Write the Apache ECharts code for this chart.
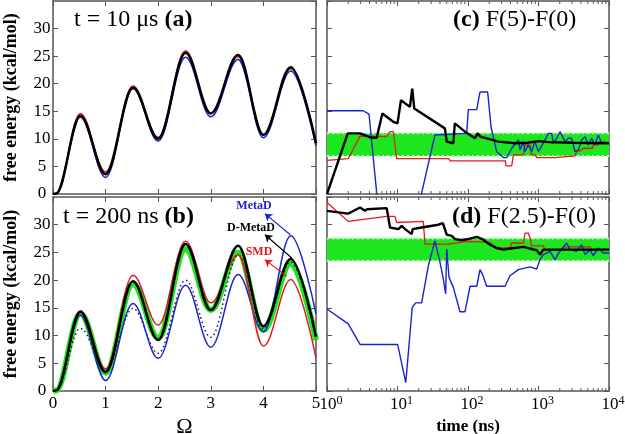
<!DOCTYPE html>
<html><head><meta charset="utf-8">
<script src="https://cdn.jsdelivr.net/npm/echarts@6/dist/echarts.min.js"></script>
<style>html,body{margin:0;padding:0;background:#fff}#c{width:625px;height:434px}</style>
</head><body><div id="c"></div>
<script>
// ---------------- data ----------------
// Omega positions of start, foot, peaks and minima (left panels)
const omegaNodes = [0, 0.06, 0.52, 1, 1.52, 2, 2.52, 3, 3.52, 4, 4.52, 5];
// panel (a): t = 10 us
const a_red   = [0, 0.1, 14.6, 4.0, 19.6, 10.3, 26.0, 14.7, 24.9, 10.8, 22.7, 9.1];
const a_blue  = [0, 0.1, 13.9, 3.0, 19.1, 9.6, 24.8, 14.0, 24.4, 10.2, 22.3, 8.7];
const a_black = [0, 0.1, 14.2, 3.6, 19.3, 10.0, 25.6, 14.6, 25.2, 10.7, 23.0, 9.2];
// panel (b): t = 200 ns
const b_green  = [0, 0.1, 14.0, 3.3, 19.3, 9.6, 25.6, 14.6, 25.0, 11.0, 23.0, 9.2];
const b_dotted = [0, 0.1, 11.3, 3.8, 14.9, 6.8, 20.0, 9.7, 24.5, 11.2, 23.3, 9.4];
const b_blue   = [0, 0.1, 13.7, 1.9, 15.8, 5.9, 19.1, 7.9, 21.0, 10.7, 28.0, 13.9];
const b_red    = [0, 0.1, 14.5, 4.0, 20.9, 11.9, 27.0, 15.9, 24.6, 8.1, 20.1, 6.0];
const b_black  = [0, 0.1, 14.3, 3.4, 19.8, 9.2, 26.5, 14.6, 26.2, 11.7, 23.8, 9.8];
// panel (c): F(5)-F(0) vs time (ns)
const c_red = [[1,6.1],[2,6.4],[2.94,10.5],[7.03,10.4],[7.83,11.3],[8.73,11.3],[9.73,6.4],[53.8,6.4],[55.6,6.0],[340,6.0],[345,5.1],[417,5.1],[440,7.1],[610,7.1],[644,8.9],[760,8.9],[800,7.1],[900,7.1],[943,6.6],[1714,6.6],[1800,6.9],[3295,6.9],[3470,7.7],[4000,7.9],[4325,8.3],[5800,8.3],[5985,8.9],[7050,8.9],[7450,9.5],[10000,9.2]];
const c_blue = [[1,15.1],[3.27,15.1],[3.94,14.5],[5.07,0.2],[5.5,-5],[19.9,-5],[22,0.2],[34,10.7],[95.8,11.0],[101,15.3],[133,15.3],[148,18.5],[190,18.5],[212,12.2],[255,7.7],[317,6.6],[354,6.6],[417,8.3],[518,9.8],[547,8.0],[610,9.5],[644,7.7],[717,8.9],[800,7.7],[891,9.5],[995,7.7],[1237,9.8],[1380,11.0],[1540,11.0],[1622,9.2],[1811,10.1],[2018,11.3],[2132,11.3],[2377,9.5],[2651,10.1],[2953,10.1],[3295,7.7],[3673,8.0],[4100,9.8],[4570,10.4],[5093,8.9],[5683,10.1],[6310,8.9],[7050,10.7],[7870,9.2],[8770,9.4],[10000,9.2]];
const c_black = [[1,0],[1.97,11],[2.94,11],[4.3,10.2],[5.07,10.2],[6.1,14.6],[8.7,13.1],[10,12.8],[11.2,17],[15,15.8],[16.2,19.1],[17.3,15.5],[47,11.9],[50,9.5],[62,9.2],[65,12.8],[90.6,11.3],[126,10.1],[137,11.0],[150,10.4],[270,9.5],[464,9.2],[700,9.3],[1000,9.6],[1380,9.4],[3000,9.3],[10000,9.2]];
// panel (d): F(2.5)-F(0) vs time (ns)
const d_red = [[1,34.0],[2,30.6],[7.03,31.5],[9.2,31.5],[9.73,30.4],[23.2,30.6],[24.6,26.5],[52.6,26.5],[55,26.8],[96,27.0],[205,26.8],[241,25.8],[394,25.8],[417,26.7],[610,26.7],[644,28.5],[717,28.5],[760,27.6],[800,26.2],[1170,26.2],[1237,25.4],[2100,25.4],[2250,26.0],[5370,26.0],[5620,25.5],[10000,25.6]];
const d_blue = [[1,14.8],[2,12.1],[2.94,8.4],[10.05,8.4],[13.1,1.5],[16.2,15.1],[18.1,15.9],[22,15.9],[27.4,22.6],[34,27.1],[40.1,23.2],[44.7,20.2],[48.2,17.5],[49.9,25.6],[53.8,20.5],[61.9,18.7],[77,14.3],[90.6,14.3],[107,18.9],[133,18.9],[148,21.9],[161,21.0],[184,18.9],[335,18.9],[394,20.8],[518,21.9],[760,22.4],[943,22.0],[1050,23.7],[1170,24.6],[1456,25.2],[1714,23.7],[1910,24.8],[2510,26.7],[2800,25.5],[3470,25.2],[4100,26.4],[4570,24.6],[5370,25.5],[5985,24.4],[7050,25.8],[8310,24.9],[10000,24.9]];
const d_black = [[1,32.5],[2,32.0],[2.94,33.1],[3.46,32.5],[3.7,32.8],[7.03,33.0],[7.83,29.5],[10.3,29.2],[11.5,29.8],[12.8,29.2],[15.9,28.3],[16.4,29.2],[22,29.5],[37.9,30.0],[44,30.3],[49.9,28.2],[58.7,28.0],[65.4,27.4],[81,27.2],[107,27.5],[133,27.8],[165,27.3],[205,26.4],[255,25.8],[317,25.5],[400,25.7],[610,26.0],[943,25.4],[1050,24.6],[1170,25.5],[2000,25.5],[10000,25.5]];
// reference bands (green)
const bandC = [6.9, 11.0];
const bandD = [23.5, 27.5];
// log-axis minor tick positions
const minorTicks = [2,3,4,5,6,7,8,9,20,30,40,50,60,70,80,90,200,300,400,500,600,700,800,900,2000,3000,4000,5000,6000,7000,8000,9000];
// axis ranges
const omegaRange = [0, 5];
const feRange = [0, 35];
const timeRange = [1, 10000];

// ---------------- styling helpers ----------------
const FONT = 'Liberation Serif';
const FRAME = '#555';
const RED = '#e11b1b', BLUE = '#1a22d0', BLACK = '#000', GREEN = '#1ee61e';
const zipOmega = arr => omegaNodes.map((x, i) => [x, arr[i]]);

function smoothLine(name, data, xi, color, width, extra) {
  return Object.assign({
    type: 'line', name, data, xAxisIndex: xi, yAxisIndex: xi,
    smooth: 0.36, smoothMonotone: 'x', symbol: 'none', z: 3,
    lineStyle: { color, width }, animation: false, silent: true
  }, extra || {});
}
function stepLine(name, data, xi, color, width) {
  return { type: 'line', name, data, xAxisIndex: xi, yAxisIndex: xi, symbol: 'none', z: 3,
    lineStyle: { color, width }, animation: false, silent: true };
}
function bandSeries(xi, band) {
  const out = [];
  out.push({ type: 'line', data: [[timeRange[0], band[0]], [timeRange[1], band[0]]], xAxisIndex: xi, yAxisIndex: xi,
    symbol: 'none', z: 1, lineStyle: { color: GREEN, width: 0 }, silent: true, animation: false,
    markArea: { silent: true, itemStyle: { color: GREEN }, data: [[{ yAxis: band[0] }, { yAxis: band[1] }]] } });
  band.forEach(v => out.push({ type: 'line', data: [[timeRange[0], v], [timeRange[1], v]], xAxisIndex: xi, yAxisIndex: xi,
    symbol: 'none', z: 2, lineStyle: { color: '#b6f7b0', width: 2, type: [2, 3] }, silent: true, animation: false }));
  return out;
}
function minorTickSeries(xi) {
  return { type: 'custom', xAxisIndex: xi, yAxisIndex: xi, silent: true, z: 6, clip: false, animation: false,
    data: minorTicks.map(t => [t, 0]),
    renderItem: (params, api) => {
      const b = api.coord([api.value(0), feRange[0]]);
      const t = api.coord([api.value(0), feRange[1]]);
      return { type: 'group', children: [
        { type: 'line', shape: { x1: b[0], y1: b[1], x2: b[0], y2: b[1] - 3 }, style: { stroke: FRAME, lineWidth: 1 } },
        { type: 'line', shape: { x1: t[0], y1: t[1], x2: t[0], y2: t[1] + 3 }, style: { stroke: FRAME, lineWidth: 1 } }
      ] };
    } };
}

const gridBase = { outerBoundsMode: 'none', containLabel: false };
const grids = [
  { left: 53, top: 1, width: 263, height: 193 },
  { left: 53, top: 197, width: 263, height: 194 },
  { left: 327, top: 1, width: 282, height: 193 },
  { left: 327, top: 197, width: 282, height: 194 }
].map(g => Object.assign({}, gridBase, g));
const axisLineStyle = { show: true, onZero: false, lineStyle: { color: FRAME, width: 1.5 } };
const tick = { show: true, inside: true, length: 5, lineStyle: { color: FRAME, width: 1 } };
const labelStyle = { color: '#000', fontFamily: FONT, fontSize: 17 };

function xAx(gi, pos, showLabel, log) {
  const ax = {
    gridIndex: gi, position: pos, axisLine: axisLineStyle, axisTick: tick,
    splitLine: { show: false }, axisLabel: { show: false }, nameLocation: 'middle'
  };
  if (log) {
    Object.assign(ax, { type: 'log', logBase: 10, min: timeRange[0], max: timeRange[1] });
    if (showLabel) ax.axisLabel = { show: true, margin: 4, padding: [0, 0, 0, 8],
      formatter: v => '{b|10}{s|' + Math.round(Math.log10(v)) + '}',
      rich: { b: Object.assign({}, labelStyle, { lineHeight: 18, verticalAlign: 'bottom' }),
              s: { color: '#000', fontFamily: FONT, fontSize: 12, verticalAlign: 'top', lineHeight: 18 } } };
  } else {
    Object.assign(ax, { type: 'value', min: omegaRange[0], max: omegaRange[1], interval: 1 });
    if (showLabel) ax.axisLabel = Object.assign({ show: true, margin: 4 }, labelStyle);
  }
  return ax;
}
function yAx(gi, pos, showLabel, name) {
  return {
    type: 'value', gridIndex: gi, position: pos, min: feRange[0], max: feRange[1], interval: 5,
    axisLine: axisLineStyle, axisTick: tick, splitLine: { show: false },
    axisLabel: showLabel ? Object.assign({ show: true, margin: 11, align: 'center', showMaxLabel: false }, labelStyle) : { show: false },
    name: name || '', nameLocation: 'middle', nameGap: 33,
    nameTextStyle: { fontFamily: FONT, fontSize: 18, fontWeight: 'bold', color: '#000' }
  };
}

const xAxes = [
  xAx(0, 'bottom', false, false), xAx(0, 'top', false, false),
  xAx(1, 'bottom', true, false), xAx(1, 'top', false, false),
  xAx(2, 'bottom', false, true), xAx(2, 'top', false, true),
  xAx(3, 'bottom', true, true), xAx(3, 'top', false, true)
];
xAxes[2].name = 'Ω'; xAxes[2].nameGap = 25;
xAxes[2].nameTextStyle = { fontFamily: FONT, fontSize: 22, color: '#000' };
xAxes[6].name = 'time (ns)'; xAxes[6].nameGap = 27;
xAxes[6].nameTextStyle = { fontFamily: FONT, fontSize: 17, fontWeight: 'bold', color: '#000' };

const FE = 'free energy (kcal/mol)';
const yAxes = [
  yAx(0, 'left', true, FE), yAx(0, 'right', false),
  yAx(1, 'left', true, FE), yAx(1, 'right', false),
  yAx(2, 'left', false), yAx(2, 'right', false),
  yAx(3, 'left', false), yAx(3, 'right', false)
];

const series = [];
// (a)
series.push(smoothLine('red', zipOmega(a_red), 0, RED, 1.5));
series.push(smoothLine('blue', zipOmega(a_blue), 0, BLUE, 1.5));
series.push(smoothLine('black', zipOmega(a_black), 0, BLACK, 2.5));
// (b)
series.push(smoothLine('green', zipOmega(b_green), 2, GREEN, 6, { z: 2 }));
series.push(smoothLine('dotted', zipOmega(b_dotted), 2, '#1a1a55', 1.6, { lineStyle: { color: '#1a1a55', width: 1.5, type: [1.5, 3] } }));
const arrowMark = (from, to, color) => ({ silent: true, animation: false, symbol: ['none', 'arrow'], symbolSize: 7,
  label: { show: false }, lineStyle: { color, width: 1.2, type: 'solid' },
  data: [[{ coord: from }, { coord: to }]] });
series.push(smoothLine('MetaD', zipOmega(b_blue), 2, BLUE, 1.5, { markLine: arrowMark([4.51, 28.2], [4.03, 32.0], BLUE) }));
series.push(smoothLine('SMD', zipOmega(b_red), 2, RED, 1.5, { markLine: arrowMark([4.44, 20.7], [4.03, 23.7], RED) }));
series.push(smoothLine('D-MetaD', zipOmega(b_black), 2, BLACK, 2.5, { markLine: arrowMark([4.54, 24.0], [4.03, 28.2], BLACK) }));
// (c)
series.push(...bandSeries(4, bandC));
series.push(stepLine('c red', c_red, 4, RED, 1.3));
series.push(stepLine('c blue', c_blue, 4, BLUE, 1.4));
series.push(stepLine('c black', c_black, 4, BLACK, 2.4));
series.push(minorTickSeries(4));
// (d)
series.push(...bandSeries(6, bandD));
series.push(stepLine('d red', d_red, 6, RED, 1.3));
series.push(stepLine('d blue', d_blue, 6, BLUE, 1.4));
series.push(stepLine('d black', d_black, 6, BLACK, 2.4));
series.push(minorTickSeries(6));

const titleStyle = { fontFamily: FONT, fontSize: 24, fontWeight: 'normal', color: '#000', lineHeight: 26,
  rich: { b: { fontFamily: FONT, fontSize: 24, fontWeight: 'bold', color: '#000', lineHeight: 26 } } };
const titles = [
  { text: 't = 10 μs {b|(a)}', left: 74, top: 7 },
  { text: 't = 200 ns {b|(b)}', left: 63, top: 204 },
  { text: '{b|(c)} F(5)-F(0)', left: 453, top: 7 },
  { text: '{b|(d)} F(2.5)-F(0)', left: 452, top: 204 }
].map(t => Object.assign({ padding: 0, textStyle: titleStyle }, t));

const annText = (txt, x, y, color) => ({ type: 'text', x, y, silent: true,
  style: { text: txt, fill: color, font: 'bold 12px "Liberation Serif"', textAlign: 'center', textVerticalAlign: 'middle' } });

const chart = echarts.init(document.getElementById('c'), null, { renderer: 'canvas' });
chart.setOption({
  animation: false,
  backgroundColor: '#fff',
  title: titles,
  grid: grids,
  xAxis: xAxes,
  yAxis: yAxes,
  series,
  graphic: [
    annText('MetaD', 254, 206, BLUE),
    annText('D-MetaD', 251, 228, BLACK),
    annText('SMD', 259, 252, RED)
  ]
});
</script></body></html>
